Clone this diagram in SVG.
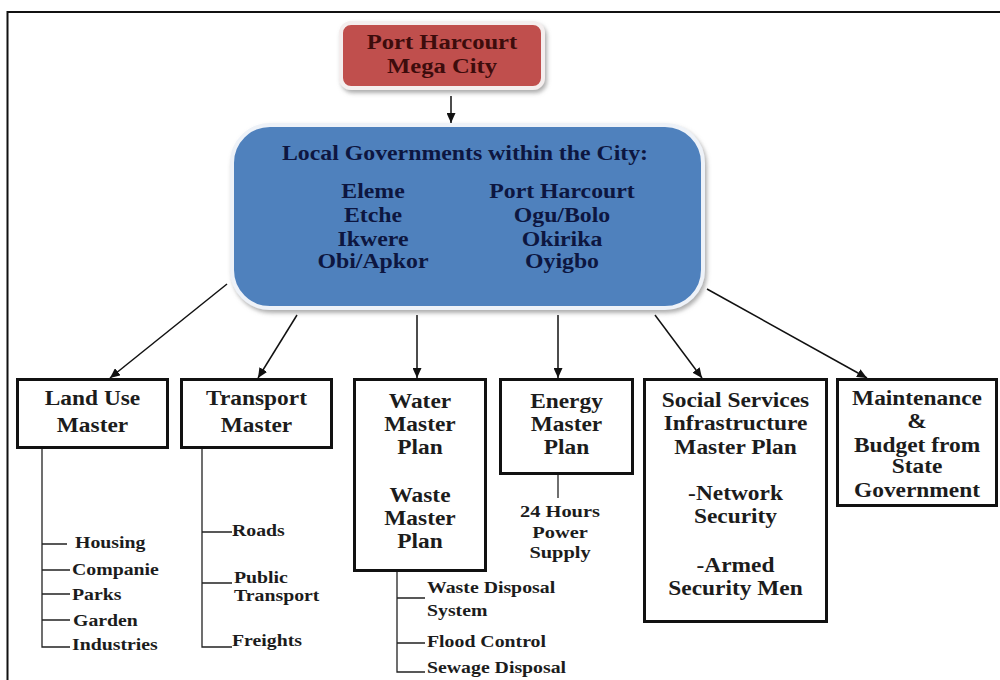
<svg xmlns="http://www.w3.org/2000/svg" width="1000" height="680" viewBox="0 0 1000 680">
<defs>
<style>
.t{font-family:"Liberation Serif","Times New Roman",serif;font-weight:bold;fill:#1c1c1c}
.big{font-size:20px;text-anchor:middle}
.small{font-size:16.5px}
.box{fill:#fff;stroke:#111;stroke-width:3}
.ln{stroke:#222;stroke-width:1.3;fill:none}
.arr{stroke:#111;stroke-width:1.5;fill:none;marker-end:url(#ah)}
.blue{fill:#0d1640}
</style>
<marker id="ah" markerUnits="userSpaceOnUse" markerWidth="10" markerHeight="9" refX="10" refY="4.5" orient="auto">
<path d="M0,0 L10,4.5 L0,9 z" fill="#111"/>
</marker>
<filter id="sh" x="-10%" y="-10%" width="125%" height="130%">
<feDropShadow dx="2" dy="3" stdDeviation="2" flood-color="#777" flood-opacity="0.6"/>
</filter>
</defs>
<rect width="1000" height="680" fill="#fff"/>
<path d="M7.5,680 V12 H1000" fill="none" stroke="#111" stroke-width="2"/>

<g id="connectors">
<line class="arr" x1="451" y1="96" x2="451" y2="123"/>
<line class="arr" x1="227" y1="284" x2="110" y2="378"/>
<line class="arr" x1="297" y1="315" x2="258" y2="378"/>
<line class="arr" x1="417" y1="315" x2="417" y2="378"/>
<line class="arr" x1="558" y1="315" x2="558" y2="378"/>
<line class="arr" x1="655" y1="315" x2="702" y2="378"/>
<line class="arr" x1="707" y1="289" x2="867" y2="378"/>
<path class="ln" d="M42,449 V647 H70 M42,544 H67 M42,570 H70 M42,594 H70 M42,620 H70"/>
<path class="ln" d="M202,449 V647 H232 M202,532 H232 M202,583 H232"/>
<path class="ln" d="M397,572 V672 H425 M397,598 H425 M397,643 H425"/>
<path class="ln" d="M558,475 V498"/>
</g>

<g id="mega-city">
<rect x="341" y="23" width="202" height="65" rx="10" fill="#c0504d" stroke="#f4eeee" stroke-width="4" filter="url(#sh)"/>
<text class="t" style="fill:#3d0c0c" font-size="20.5" text-anchor="middle" transform="translate(442,49) scale(1.2,1)"><tspan x="0" y="0">Port Harcourt</tspan><tspan x="0" y="24">Mega City</tspan></text>
</g>

<g id="local-governments">
<rect x="232" y="125" width="471" height="183" rx="38" fill="#4f81bd" stroke="#eef2f8" stroke-width="4" filter="url(#sh)"/>
<text class="t big blue" transform="translate(465,160) scale(1.19,1)">Local Governments within the City:</text>
<text class="t big blue" transform="translate(373,198) scale(1.19,1)"><tspan x="0" y="0">Eleme</tspan><tspan x="0" y="24">Etche</tspan><tspan x="0" y="48">Ikwere</tspan><tspan x="0" y="70">Obi/Apkor</tspan></text>
<text class="t big blue" transform="translate(562,198) scale(1.19,1)"><tspan x="0" y="0">Port Harcourt</tspan><tspan x="0" y="24">Ogu/Bolo</tspan><tspan x="0" y="48">Okirika</tspan><tspan x="0" y="70">Oyigbo</tspan></text>
</g>

<g id="land-use">
<rect class="box" x="17.5" y="379.5" width="150" height="68"/>
<text class="t big" transform="translate(92.5,405) scale(1.17,1)"><tspan x="0" y="0">Land Use</tspan><tspan x="0" y="27">Master</tspan></text>
<text class="t small" transform="translate(75,548) scale(1.2,1)">Housing</text>
<text class="t small" transform="translate(72,575) scale(1.2,1)">Companie</text>
<text class="t small" transform="translate(72,600) scale(1.2,1)">Parks</text>
<text class="t small" transform="translate(73,626) scale(1.2,1)">Garden</text>
<text class="t small" transform="translate(72,650) scale(1.2,1)">Industries</text>
</g>

<g id="transport">
<rect class="box" x="181.5" y="379.5" width="150" height="68"/>
<text class="t big" transform="translate(256.5,405) scale(1.17,1)"><tspan x="0" y="0">Transport</tspan><tspan x="0" y="27">Master</tspan></text>
<text class="t small" transform="translate(232,536) scale(1.2,1)">Roads</text>
<text class="t small" transform="translate(234,583) scale(1.2,1)"><tspan x="0" y="0">Public</tspan><tspan x="0" y="18">Transport</tspan></text>
<text class="t small" transform="translate(232,646) scale(1.2,1)">Freights</text>
</g>

<g id="water-waste">
<rect class="box" x="354.5" y="379.5" width="131" height="191"/>
<text class="t big" transform="translate(420,408) scale(1.17,1)"><tspan x="0" y="0">Water</tspan><tspan x="0" y="23">Master</tspan><tspan x="0" y="46">Plan</tspan><tspan x="0" y="94">Waste</tspan><tspan x="0" y="117">Master</tspan><tspan x="0" y="140">Plan</tspan></text>
<text class="t small" transform="translate(427,593) scale(1.2,1)"><tspan x="0" y="0">Waste Disposal</tspan><tspan x="0" y="23">System</tspan></text>
<text class="t small" transform="translate(427,647) scale(1.2,1)">Flood Control</text>
<text class="t small" transform="translate(427,673) scale(1.2,1)">Sewage Disposal</text>
</g>

<g id="energy">
<rect class="box" x="500.5" y="379.5" width="132" height="94"/>
<text class="t big" transform="translate(566.5,408) scale(1.17,1)"><tspan x="0" y="0">Energy</tspan><tspan x="0" y="23">Master</tspan><tspan x="0" y="46">Plan</tspan></text>
<text class="t" font-size="17" text-anchor="middle" transform="translate(560,517) scale(1.2,1)"><tspan x="0" y="0">24 Hours</tspan><tspan x="0" y="21">Power</tspan><tspan x="0" y="41">Supply</tspan></text>
</g>

<g id="social-services">
<rect class="box" x="644.5" y="379.5" width="182" height="242"/>
<text class="t big" transform="translate(735.5,407) scale(1.17,1)"><tspan x="0" y="0">Social Services</tspan><tspan x="0" y="23">Infrastructure</tspan><tspan x="0" y="47">Master Plan</tspan><tspan x="0" y="93">-Network</tspan><tspan x="0" y="116">Security</tspan><tspan x="0" y="165">-Armed</tspan><tspan x="0" y="188">Security Men</tspan></text>
</g>

<g id="maintenance">
<rect class="box" x="837.5" y="379.5" width="159" height="126"/>
<text class="t big" transform="translate(917,405) scale(1.17,1)"><tspan x="0" y="0">Maintenance</tspan><tspan x="0" y="23">&amp;</tspan><tspan x="0" y="47">Budget from</tspan><tspan x="0" y="68">State</tspan><tspan x="0" y="92">Government</tspan></text>
</g>
</svg>
